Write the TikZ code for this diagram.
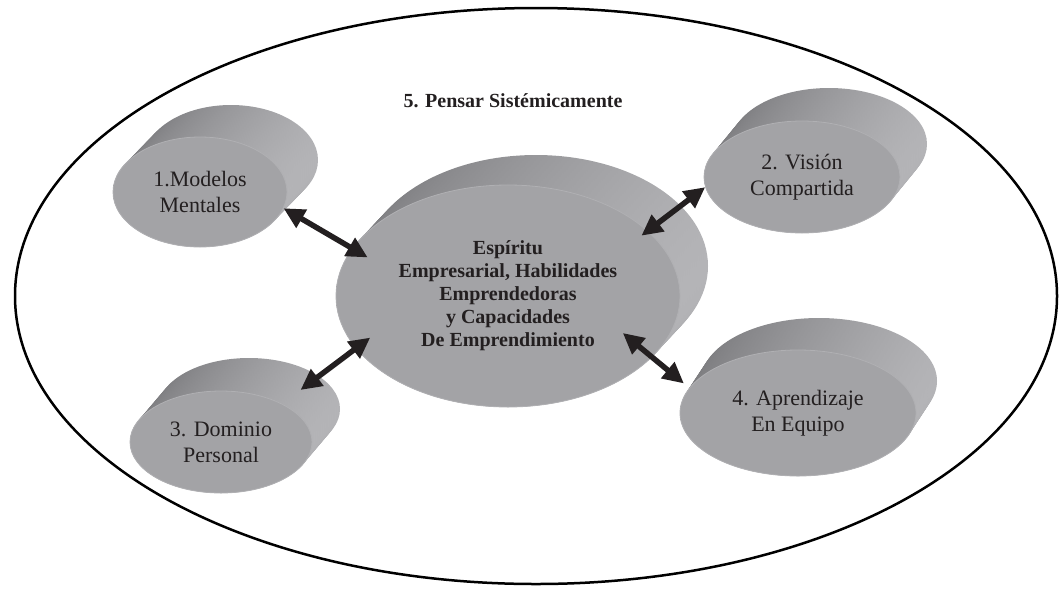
\documentclass[tikz,border=0pt]{standalone}
\usepackage{fontspec}
\setmainfont{Liberation Serif}
\usetikzlibrary{shapes.geometric,arrows.meta}

\definecolor{faceGray}{RGB}{163,163,166}
\definecolor{faceRim}{RGB}{176,176,179}
\definecolor{sideDark}{RGB}{124,124,127}
\definecolor{sideLight}{RGB}{180,180,183}
\definecolor{inkBlack}{RGB}{35,31,32}

\begin{document}
\begin{tikzpicture}[
    x=1pt, y=-1pt,
    side/.style ={
        left color=sideDark,
        right color=sideLight
    },
    face/.style ={
        ellipse,
        fill=faceGray,
        draw=faceRim,
        line width=0.8pt,
        inner sep=0pt,
        align=center,
        text=inkBlack
    },
    disklabel/.style ={font=\fontsize{22}{26}\selectfont},
    core/.style ={font=\fontsize{20}{23}\selectfont\bfseries, text=inkBlack},
    dblarrow/.style ={
        {Triangle[length=21pt,width=20pt]}-{Triangle[length=21pt,width=20pt]},
        line width=5.5pt,
        inkBlack
    }
    ]
    \useasboundingbox (0,0) rectangle (1059,595);

    \node[draw, ellipse, line width=2.5pt, minimum width=1042pt, minimum height=576pt] (system) at (536,296) {};
    \node[core] (title) at (513,101) {5. Pensar Sistémicamente};

    % side of each disk
    \foreach \cx/\cy/\rx/\ry/\dx/\dy in {508/296/172/111/28/-30, 200/192/87/55/31/-32, 802/177/98/56/27/-33, 221/442/91/51/28/-33, 798/413/118/63/21/-32}
        \foreach \k in {0,...,16}
            \path[side] (\cx+\dx-\dx*\k/16, \cy+\dy-\dy*\k/16) ellipse [x radius=\rx, y radius=\ry];

    \node[face, core, minimum width=344pt, minimum height=222pt] (main) at (508,296)
        {Espíritu\\Empresarial, Habilidades\\Emprendedoras\\y Capacidades\\De Emprendimiento};

    \foreach \nm/\cx/\cy/\rx/\ry/\txt in {m1/200/192/87/55/{1.Modelos\\Mentales}, m2/802/177/98/56/{2. Visión\\Compartida}, m3/221/442/91/51/{3. Dominio\\Personal}, m4/798/413/118/63/{4. Aprendizaje\\En Equipo}}
        \node[face, disklabel, minimum width=2*\rx*1pt, minimum height=2*\ry*1pt] (\nm) at (\cx,\cy) {\txt};

    \draw[dblarrow, shorten >=-18pt] (m1.-11) -- (main.163);
    \draw[dblarrow, shorten <=-8pt] (main.25) -- (m2.186);
    \draw[dblarrow, shorten <=23pt, shorten >=-18pt] (m3.32) -- (main.199.5);
    \draw[dblarrow, shorten <=-38pt, shorten >=7pt] (main.-23.7) -- (m4.167);

\end{tikzpicture}
\end{document}
